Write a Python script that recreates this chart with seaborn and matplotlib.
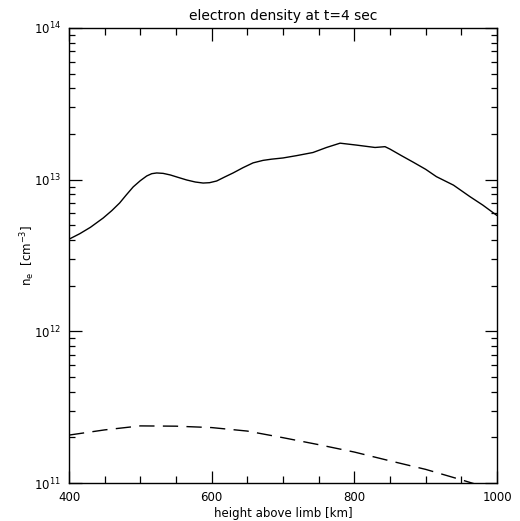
import pandas as pd
import matplotlib
matplotlib.use("Agg")
import matplotlib.pyplot as plt
import matplotlib.ticker as mticker
import seaborn as sns

# electron density, solid curve
height_solid = [400, 415, 430, 448, 460, 471, 480, 490, 500, 509, 516, 523, 532,
                542, 553, 565, 577, 588, 597, 607, 618, 630, 644, 658, 672, 684,
                700, 719, 742, 761, 780, 803, 829, 843, 850, 866, 883, 900, 915,
                939, 962, 980, 1000]
ne_solid = [4.05e12, 4.4e12, 4.85e12, 5.59e12, 6.25e12, 7.02e12, 7.9e12, 8.96e12,
            9.85e12, 1.058e13, 1.095e13, 1.107e13, 1.1e13, 1.074e13, 1.035e13,
            9.95e12, 9.65e12, 9.5e12, 9.55e12, 9.8e12, 1.04e13, 1.107e13, 1.2e13,
            1.29e13, 1.34e13, 1.365e13, 1.39e13, 1.44e13, 1.51e13, 1.63e13,
            1.74e13, 1.69e13, 1.63e13, 1.65e13, 1.59e13, 1.44e13, 1.30e13,
            1.17e13, 1.047e13, 9.2e12, 7.73e12, 6.8e12, 5.8e12]

# electron density, dashed curve
height_dashed = [400, 450, 500, 550, 600, 650, 700, 750, 800, 850, 900, 950, 1000]
ne_dashed = [2.07e11, 2.24e11, 2.38e11, 2.37e11, 2.32e11, 2.2e11, 1.99e11, 1.79e11,
             1.6e11, 1.40e11, 1.23e11, 1.05e11, 8.9e10]

sns.set_style("white")
plt.rcParams["font.family"] = ["DejaVu Sans"]
plt.rcParams["text.color"] = "black"
plt.rcParams["axes.labelcolor"] = "black"
plt.rcParams["xtick.color"] = "black"
plt.rcParams["ytick.color"] = "black"

fig = plt.figure(figsize=(5.2, 5.21), dpi=100)
ax = fig.add_axes([0.1327, 0.0729, 0.8231, 0.8734])

df_solid = pd.DataFrame({"height": height_solid, "ne": ne_solid})
df_dashed = pd.DataFrame({"height": height_dashed, "ne": ne_dashed})

sns.lineplot(data=df_solid, x="height", y="ne", ax=ax, color="black", linewidth=1.0)
sns.lineplot(data=df_dashed, x="height", y="ne", ax=ax, color="black", linewidth=1.0)
ax.lines[-1].set_dashes([11, 6])

ax.set_yscale("log")
ax.set_xlim(400, 1000)
ax.set_ylim(1e11, 1e14)

ax.xaxis.set_major_locator(mticker.MultipleLocator(200))
ax.xaxis.set_minor_locator(mticker.MultipleLocator(50))
ax.yaxis.set_major_locator(mticker.LogLocator(base=10, numticks=10))
ax.yaxis.set_minor_locator(mticker.LogLocator(base=10, subs=range(2, 10), numticks=20))
ax.yaxis.set_minor_formatter(mticker.NullFormatter())

ax.tick_params(which="both", direction="in", top=True, right=True, bottom=True,
               left=True, labelsize=8.5, width=0.9, pad=6)
ax.tick_params(which="major", length=9)
ax.tick_params(which="minor", length=5)
ax.tick_params(axis="y", which="minor", length=4)

for s in ax.spines.values():
    s.set_color("black")
    s.set_linewidth(1.0)

ax.set_title("electron density at t=4 sec", fontsize=10, pad=6)
ax.set_xlabel("height above limb [km]", fontsize=8.5, labelpad=2)
ax.set_ylabel(r"n$_\mathregular{e}$  [cm$^\mathregular{-3}$]", fontsize=8.5)
ax.yaxis.set_label_coords(-0.075, 0.5)

fig.savefig("out.png", dpi=100)
